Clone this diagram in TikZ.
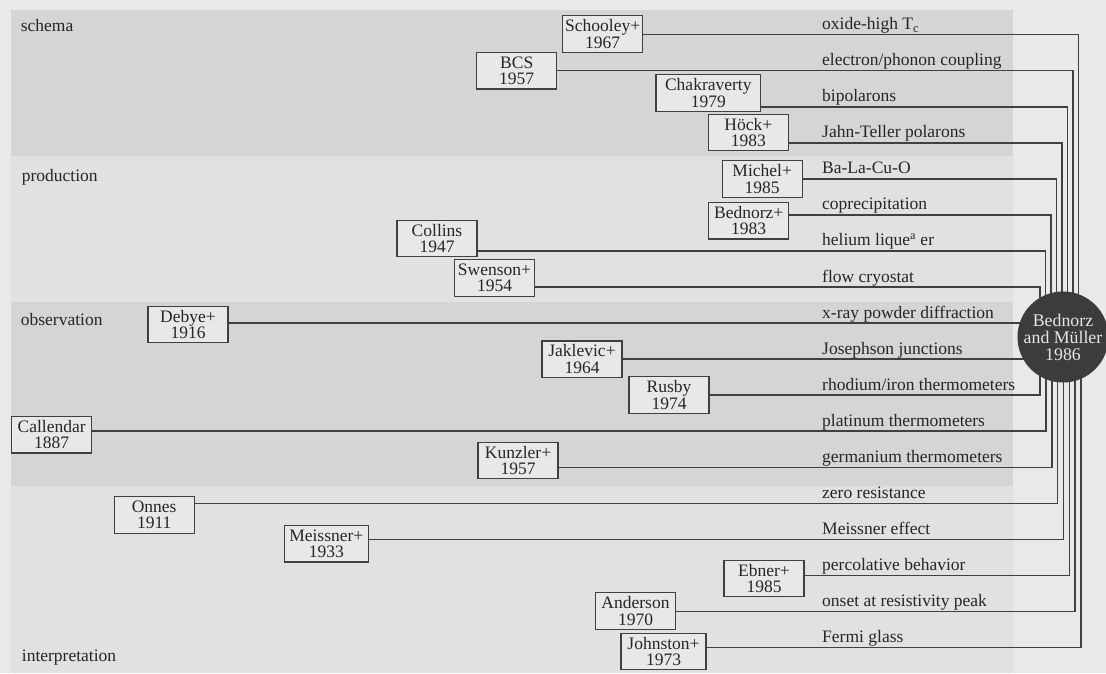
\documentclass[tikz,border=0pt]{standalone}
\usepackage{fontspec}
\setmainfont{Liberation Serif}
\pgfdeclarelayer{bands}
\pgfdeclarelayer{wires}
\pgfsetlayers{bands,wires,main}
\definecolor{outerbg}{HTML}{E9E9E9}
\definecolor{darkband}{HTML}{D5D5D5}
\definecolor{lightband}{HTML}{E1E1E1}
\definecolor{boxfill}{HTML}{E8E8E8}
\definecolor{ink}{HTML}{404040}
\definecolor{txt}{HTML}{262626}
\definecolor{disc}{HTML}{3C3C3C}
\definecolor{disctxt}{HTML}{E6E6E6}
\begin{document}
\begin{tikzpicture}[x=1pt,y=-1pt,
  ref/.style={draw=ink, line width=1.3pt, fill=boxfill, align=center,
    minimum width=80pt, minimum height=36.6pt, inner xsep=2pt, inner ysep=0pt,
    text=txt, font=\fontsize{17.5}{16.5}\selectfont},
  lbl/.style={anchor=base west, inner sep=0pt, text=txt, font=\fontsize{17.5}{21}\selectfont},
  cat/.style={anchor=base west, inner sep=0pt, text=txt, font=\fontsize{17.5}{21}\selectfont},
  wire/.style={draw=ink, line width=1.4pt},
  hub/.style={circle, fill=disc, minimum size=84pt, inner sep=0pt, align=center,
    text=disctxt, font=\fontsize{17.8}{17}\selectfont}
]
\useasboundingbox (0,0) rectangle (1106,673);

% background bands
\begin{pgfonlayer}{bands}
\fill[outerbg] (0,0) rectangle (1106,673);
\fill[darkband] (11,10) rectangle (1013,156);
\fill[lightband] (11,156) rectangle (1013,302);
\fill[darkband] (11,302) rectangle (1013,486);
\fill[lightband] (11,486) rectangle (1013,673);
\end{pgfonlayer}

% category labels
\node[cat] (kschema) at (20.7,31) {schema};
\node[cat] (kprod) at (21.7,181) {production};
\node[cat] (kobs) at (20.7,325) {observation};
\node[cat] (kint) at (21.7,661) {interpretation};

% hub
\node[hub] (bm) at (1063,337) {Bednorz\\and Müller\\1986};

% reference boxes
\node[ref] (sch) at (602.7,34) {Schooley+\\1967};
\node[ref] (bcs) at (516.7,70.7) {BCS\\1957};
\node[ref, minimum width=104.7pt] (chak) at (708.3,93) {Chakraverty\\1979};
\node[ref] (hock) at (748.3,132.5) {Höck+\\1983};
\node[ref] (mich) at (762.2,179) {Michel+\\1985};
\node[ref] (bedn) at (748.7,220.7) {Bednorz+\\1983};
\node[ref] (coll) at (437,238.5) {Collins\\1947};
\node[ref] (swen) at (494.5,278) {Swenson+\\1954};
\node[ref] (deb) at (188,324.5) {Debye+\\1916};
\node[ref] (jak) at (582,359.2) {Jaklevic+\\1964};
\node[ref] (rus) at (669,395) {Rusby\\1974};
\node[ref] (cal) at (51.7,434.7) {Callendar\\1887};
\node[ref] (kun) at (518,460.5) {Kunzler+\\1957};
\node[ref] (onn) at (154.2,515) {Onnes\\1911};
\node[ref, minimum width=84pt] (mei) at (326.3,543.7) {Meissner+\\1933};
\node[ref] (ebn) at (764,578.5) {Ebner+\\1985};
\node[ref] (ande) at (635.5,611) {Anderson\\1970};
\node[ref, minimum width=85pt] (joh) at (663.5,651.5) {Johnston+\\1973};

% topic labels
\node[lbl] (t0) at (822,29.7) {oxide-high T\textsubscript{c}};
\node[lbl] (t1) at (822,65.7) {electron/phonon coupling};
\node[lbl] (t2) at (822,101.8) {bipolarons};
\node[lbl] (t3) at (822,137.8) {Jahn-Teller polarons};
\node[lbl] (t4) at (822,173.9) {Ba-La-Cu-O};
\node[lbl] (t5) at (822,209.9) {coprecipitation};
\node[lbl] (t6) at (822,245.9) {helium lique\textsuperscript{a} er};
\node[lbl] (t7) at (822,282) {flow cryostat};
\node[lbl] (t8) at (822,318) {x-ray powder diffraction};
\node[lbl] (t9) at (822,354) {Josephson junctions};
\node[lbl] (t10) at (822,390.1) {rhodium/iron thermometers};
\node[lbl] (t11) at (822,426.1) {platinum thermometers};
\node[lbl] (t12) at (822,462.2) {germanium thermometers};
\node[lbl] (t13) at (822,498.2) {zero resistance};
\node[lbl] (t14) at (822,534.2) {Meissner effect};
\node[lbl] (t15) at (822,570.3) {percolative behavior};
\node[lbl] (t16) at (822,606.3) {onset at resistivity peak};
\node[lbl] (t17) at (822,642.4) {Fermi glass};

% bend points of the connectors
\coordinate (c0) at (1078.5,34.7);
\coordinate (c1) at (1073,70.7);
\coordinate (c2) at (1067.5,106.8);
\coordinate (c3) at (1062,142.8);
\coordinate (c4) at (1056.5,178.9);
\coordinate (c5) at (1051,214.9);
\coordinate (c6) at (1045.5,250.9);
\coordinate (c7) at (1040,287);
\coordinate (c8) at (1063,323);
\coordinate (c9) at (1063,359);
\coordinate (c10) at (1040,395.1);
\coordinate (c11) at (1046,431.1);
\coordinate (c12) at (1051.8,467.2);
\coordinate (c13) at (1057.6,503.2);
\coordinate (c14) at (1063.4,539.2);
\coordinate (c15) at (1069.2,575.3);
\coordinate (c16) at (1075,611.3);
\coordinate (c17) at (1080.8,647.4);

\begin{pgfonlayer}{wires}
\draw[wire] (sch.east |- c0) -- (c0) -- (c0 |- bm.center);
\draw[wire] (bcs.east |- c1) -- (c1) -- (c1 |- bm.center);
\draw[wire] (chak.east |- c2) -- (c2) -- (c2 |- bm.center);
\draw[wire] (hock.east |- c3) -- (c3) -- (c3 |- bm.center);
\draw[wire] (mich.east |- c4) -- (c4) -- (c4 |- bm.center);
\draw[wire] (bedn.east |- c5) -- (c5) -- (c5 |- bm.center);
\draw[wire] (coll.east |- c6) -- (c6) -- (c6 |- bm.center);
\draw[wire] (swen.east |- c7) -- (c7) -- (c7 |- bm.center);
\draw[wire] (deb.east |- c8) -- (c8);
\draw[wire] (jak.east |- c9) -- (c9);
\draw[wire] (rus.east |- c10) -- (c10) -- (c10 |- bm.center);
\draw[wire] (cal.east |- c11) -- (c11) -- (c11 |- bm.center);
\draw[wire] (kun.east |- c12) -- (c12) -- (c12 |- bm.center);
\draw[wire] (onn.east |- c13) -- (c13) -- (c13 |- bm.center);
\draw[wire] (mei.east |- c14) -- (c14) -- (c14 |- bm.center);
\draw[wire] (ebn.east |- c15) -- (c15) -- (c15 |- bm.center);
\draw[wire] (ande.east |- c16) -- (c16) -- (c16 |- bm.center);
\draw[wire] (joh.east |- c17) -- (c17) -- (c17 |- bm.center);
\end{pgfonlayer}
\end{tikzpicture}
\end{document}
